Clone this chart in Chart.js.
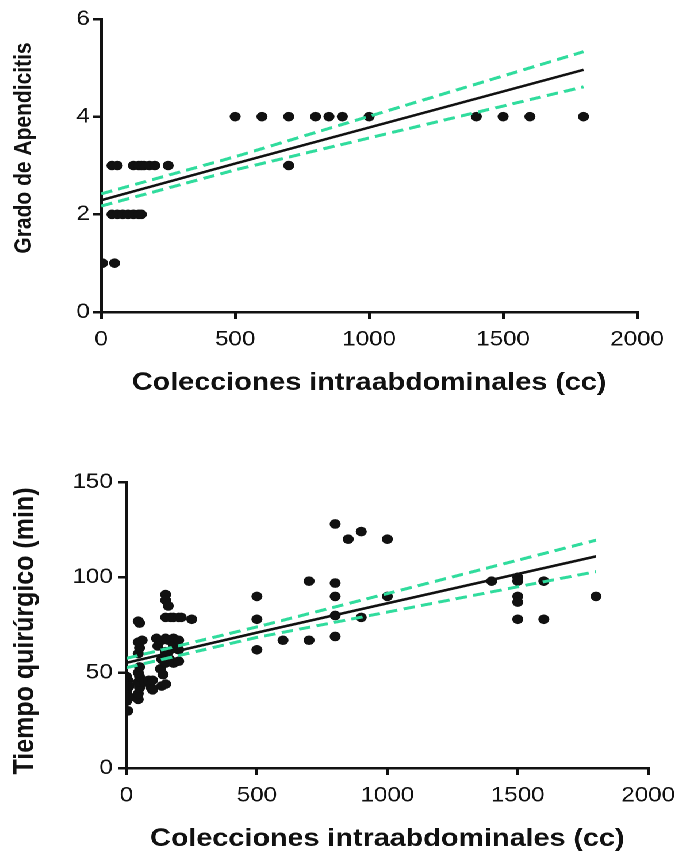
<!DOCTYPE html>
<html>
<head>
<meta charset="utf-8">
<script src="https://cdn.jsdelivr.net/npm/chart.js@4"></script>
<style>
html, body { margin: 0; padding: 0; background: #fff; overflow: hidden; }
/* the original figure is stretched sideways, so the whole drawing is too */
#wrap { position: absolute; left: 0; top: 0; width: 595px; height: 856px; transform: scaleX(1.15); transform-origin: 0 0; }
.box { position: absolute; left: 0; width: 595px; }
#box1 { top: 0; height: 402px; }
#box2 { top: 402px; height: 454px; }
</style>
</head>
<body>
<div id="wrap">
  <div class="box" id="box1"><canvas id="c1" width="595" height="402"></canvas></div>
  <div class="box" id="box2"><canvas id="c2" width="595" height="454"></canvas></div>
</div>
<script>
// Grado de apendicitis vs colecciones (cc)
const gradoX = [5, 50, 40, 60, 80, 100, 120, 140, 150, 40, 60, 120, 140, 150, 160, 180, 200, 250, 700,
    500, 600, 700, 800, 850, 900, 1000, 1400, 1500, 1600, 1800];
const gradoY = [1, 1, 2, 2, 2, 2, 2, 2, 2, 3, 3, 3, 3, 3, 3, 3, 3, 3, 3,
    4, 4, 4, 4, 4, 4, 4, 4, 4, 4, 4];
const gradoFitX = [0, 500, 1800];
const gradoFit = [2.29, 3.04, 4.96];
const gradoUpper = [2.42, 3.18, 5.33];
const gradoLower = [2.17, 2.91, 4.61];

// Tiempo quirurgico (min) vs colecciones (cc)
const tiempoX = [5, 0, 5, 0, 5, 0, 5, 0, 10, 10,
    45, 45, 50, 45, 50, 45, 50, 45, 50, 45, 60, 50, 45,
    70, 85, 95, 100, 100,
    115, 120, 135, 135, 130, 135, 140,
    150, 150, 160, 150, 150, 150, 150, 150,
    160, 160, 165, 170, 180, 180, 180, 180,
    200, 200, 200, 200, 210, 250,
    500, 500, 500, 600, 700, 700, 800, 800, 800, 800, 800, 850, 900, 900, 1000, 1000,
    1400, 1500, 1500, 1500, 1500, 1500, 1600, 1600, 1800];
const tiempoY = [30, 35, 38, 40, 42, 44, 46, 48, 37, 43,
    36, 39, 42, 45, 48, 50, 53, 60, 63, 66, 67, 76, 77,
    45, 46, 42, 46, 41,
    68, 64, 67, 57, 52, 43, 49,
    91, 88, 85, 79, 68, 61, 55, 44,
    67, 61, 57, 79, 79, 68, 64, 55,
    79, 67, 62, 56, 79, 78,
    90, 78, 62, 67, 98, 67, 128, 97, 90, 80, 69, 120, 124, 79, 120, 90,
    98, 100, 98, 90, 87, 78, 98, 78, 90];
const tiempoFitX = [0, 500, 1800];
const tiempoFit = [55.2, 71.0, 111];
const tiempoUpper = [57.5, 74.0, 119.5];
const tiempoLower = [52.6, 68.5, 103];

const INK = '#111';
const GREEN = '#30dc9d';
const FONT = '"Liberation Sans", Arial, sans-serif';
const xTicks = [0, 500, 1000, 1500, 2000];

const pts = (xs, ys) => xs.map((x, i) => ({ x: x, y: ys[i] }));

// vertical axis title, drawn where the figure has it (not always centred on the axis)
const yTitlePlugin = {
    id: 'yTitle',
    afterDraw(chart, args, opts) {
        const ctx = chart.ctx;
        ctx.save();
        ctx.translate(opts.x, opts.y);
        ctx.rotate(-Math.PI / 2);
        ctx.font = 'bold ' + opts.size + 'px ' + FONT;
        ctx.fillStyle = INK;
        ctx.textAlign = 'center';
        ctx.textBaseline = 'middle';
        ctx.fillText(opts.text, 0, 0);
        ctx.restore();
    }
};

function datasets(xs, ys, fx, fit, up, low) {
    return [
        { data: pts(xs, ys), backgroundColor: INK, borderWidth: 0, pointRadius: 4.8, order: 3 },
        { data: pts(fx, up), showLine: true, borderColor: GREEN, borderWidth: 3, borderDash: [10, 5.5], pointRadius: 0, order: 2 },
        { data: pts(fx, low), showLine: true, borderColor: GREEN, borderWidth: 3, borderDash: [10, 5.5], pointRadius: 0, order: 2 },
        { data: pts(fx, fit), showLine: true, borderColor: INK, borderWidth: 2.5, pointRadius: 0, order: 1 }
    ];
}

function makeChart(id, cfg) {
    return new Chart(document.getElementById(id), {
        type: 'scatter',
        data: { datasets: cfg.sets },
        plugins: [yTitlePlugin],
        options: {
            responsive: false,
            animation: false,
            devicePixelRatio: 2,
            layout: { padding: { top: cfg.padTop, right: cfg.padRight, left: 0, bottom: 0 } },
            plugins: {
                legend: { display: false },
                tooltip: { enabled: false },
                yTitle: { text: cfg.yTitle, size: cfg.yTitleSize, x: cfg.yTitleX, y: cfg.yTitleY }
            },
            scales: {
                x: {
                    type: 'linear', min: 0, max: 2000,
                    afterBuildTicks: s => { s.ticks = xTicks.map(v => ({ value: v })); },
                    ticks: { color: INK, font: { family: FONT, size: 21 }, padding: 8, maxRotation: 0, callback: v => String(v) },
                    grid: { drawOnChartArea: false, drawTicks: true, tickLength: 7, color: INK, lineWidth: 2.5 },
                    border: { color: INK, width: 2.5 },
                    title: { display: true, text: 'Colecciones intraabdominales (cc)', color: INK,
                        font: { family: FONT, size: 25, weight: 'bold' }, padding: { top: 0, bottom: cfg.xTitlePad } },
                    afterFit: s => { s.height = cfg.xHeight; }
                },
                y: {
                    type: 'linear', min: 0, max: cfg.yMax,
                    afterBuildTicks: s => { s.ticks = cfg.yTicks.map(v => ({ value: v })); },
                    ticks: { color: INK, font: { family: FONT, size: 21 }, padding: cfg.yTickPad, callback: v => String(v) },
                    grid: { drawOnChartArea: false, drawTicks: true, tickLength: 7, color: INK, lineWidth: 2.5 },
                    border: { color: INK, width: 2.5 },
                    afterFit: s => { s.width = cfg.yWidth; }
                }
            }
        }
    });
}

makeChart('c1', {
    sets: datasets(gradoX, gradoY, gradoFitX, gradoFit, gradoUpper, gradoLower),
    padTop: 19, padRight: 41, xHeight: 90, xTitlePad: 4,
    yMax: 6, yTicks: [0, 2, 4, 6], yWidth: 88, yTickPad: 3,
    yTitle: 'Grado de Apendicitis', yTitleSize: 21, yTitleX: 21, yTitleY: 148
});

makeChart('c2', {
    sets: datasets(tiempoX, tiempoY, tiempoFitX, tiempoFit, tiempoUpper, tiempoLower),
    padTop: 80, padRight: 28, xHeight: 88, xTitlePad: 2,
    yMax: 150, yTicks: [0, 50, 100, 150], yWidth: 110, yTickPad: 5,
    yTitle: 'Tiempo quirúrgico (min)', yTitleSize: 25, yTitleX: 22, yTitleY: 229
});
</script>
</body>
</html>
